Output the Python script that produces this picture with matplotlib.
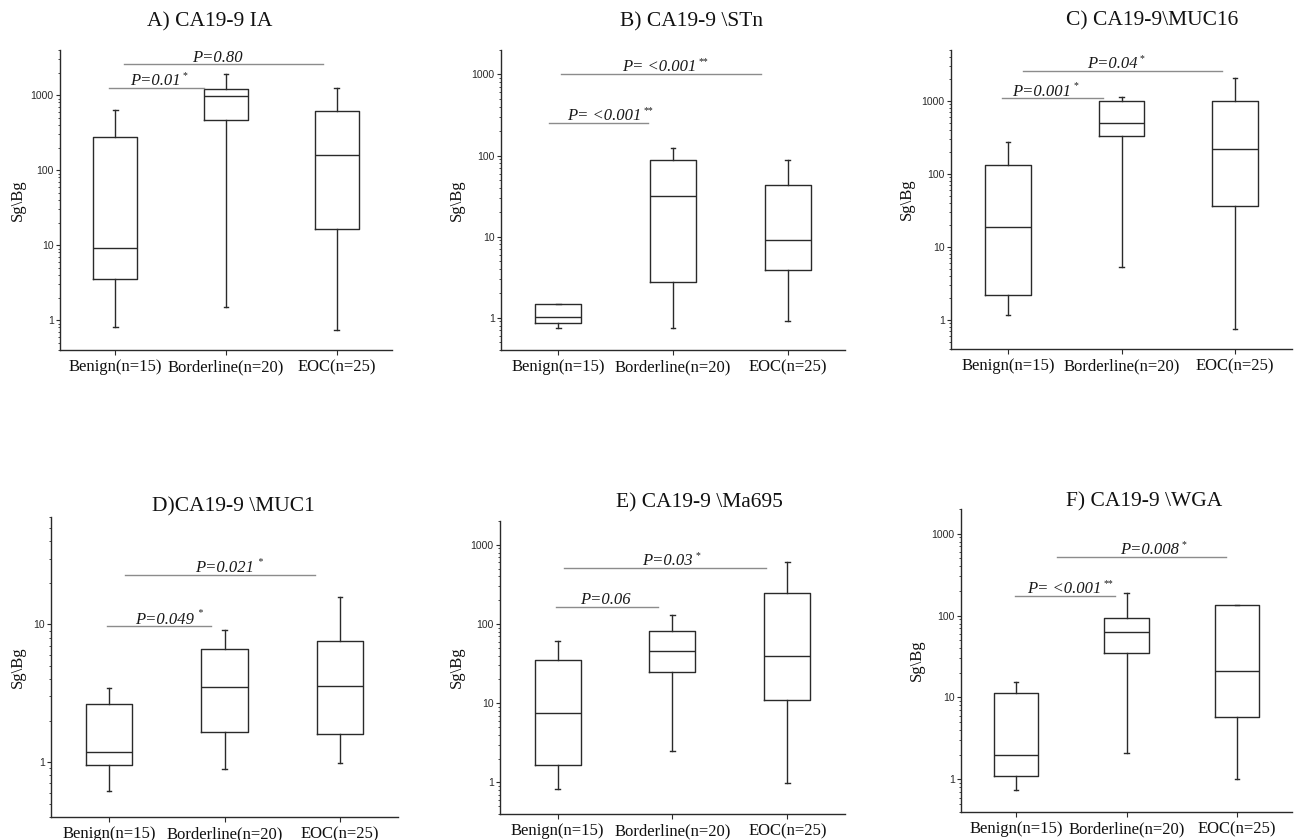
import matplotlib
matplotlib.use('Agg')
import matplotlib.pyplot as plt
from matplotlib.ticker import LogLocator, NullFormatter, FuncFormatter

groups = ['Benign(n=15)', 'Borderline(n=20)', 'EOC(n=25)']
titles = ['A) CA19-9 IA', 'B) CA19-9 \\STn', 'C) CA19-9\\MUC16',
          'D)CA19-9 \\MUC1', 'E) CA19-9 \\Ma695', 'F) CA19-9 \\WGA']

# per group: whisker low, Q1, median, Q3, whisker high
ia = [[0.8, 3.5, 9.2, 281, 631], [1.48, 460, 980, 1214, 1900], [0.74, 16.2, 158, 606, 1230]]
stn = [[0.75, 0.86, 1.03, 1.49, 1.49], [0.75, 2.77, 32, 87, 123], [0.91, 3.9, 9.2, 43, 87]]
muc16 = [[1.16, 2.2, 19, 133, 276], [5.26, 334, 494, 1000, 1135], [0.76, 36.6, 219, 1000, 2070]]
muc1 = [[0.62, 0.955, 1.19, 2.66, 3.46], [0.89, 1.66, 3.5, 6.58, 9.1], [0.98, 1.59, 3.55, 7.56, 15.7]]
ma695 = [[0.83, 1.66, 7.5, 35.5, 62], [2.49, 24.6, 45.6, 82, 130], [0.98, 11, 39.5, 248, 600]]
wga = [[0.75, 1.11, 1.96, 11.3, 15.4], [2.1, 35, 62.8, 94.5, 187], [1.0, 5.7, 21.3, 135, 136]]

# significance bars: x start, x end, y, text x, label, stars
ia_sig = [(0.94, 1.80, 1240, 1.36, 'P=0.01', '*'), (1.08, 2.88, 2565, 1.92, 'P=0.80', '')]
stn_sig = [(0.92, 1.78, 253, 1.40, 'P= <0.001', '**'), (1.02, 2.77, 1010, 1.88, 'P= <0.001', '**')]
muc16_sig = [(0.95, 1.84, 1090, 1.30, 'P=0.001', '*'), (1.13, 2.88, 2590, 1.92, 'P=0.04', '*')]
muc1_sig = [(0.98, 1.88, 9.67, 1.48, 'P=0.049', ' *'), (1.14, 2.78, 22.9, 2.00, 'P=0.021', ' *')]
ma695_sig = [(0.99, 1.87, 165, 1.42, 'P=0.06', ''), (1.06, 2.81, 508, 1.96, 'P=0.03', '*')]
wga_sig = [(0.99, 1.90, 174, 1.44, 'P= <0.001', '**'), (1.37, 2.90, 525, 2.21, 'P=0.008', '*')]

ylims = [(0.4, 4000), (0.4, 2000), (0.4, 5000), (0.4, 60), (0.4, 2000), (0.4, 2000)]

panels = [ia, stn, muc16, muc1, ma695, wga]
sigs = [ia_sig, stn_sig, muc16_sig, muc1_sig, ma695_sig, wga_sig]

# layout in pixels: axes (x0, x1, y0, y1), title centre, y label distance
W, H = 1296, 840
rects = [(60, 392, 50, 350), (501, 845, 50, 350), (951, 1292, 50, 349),
         (51, 398, 517, 817), (500, 845, 521, 814), (961, 1292, 509, 812)]
title_pos = [(210, 22), (692, 22), (1152, 21), (233, 507), (699, 503), (1144, 502)]
ylab_off = [42, 44, 44, 33, 43, 44]

serif = 'Liberation Serif'
sans = 'Liberation Sans'
ink = '#2a2a2a'

fig = plt.figure(figsize=(W / 100, H / 100), dpi=100)

for i in range(6):
    x0, x1, y0, y1 = rects[i]
    ax = fig.add_axes([x0 / W, 1 - y1 / H, (x1 - x0) / W, (y1 - y0) / H])

    stats = []
    for g, row in zip(groups, panels[i]):
        stats.append(dict(label=g, whislo=row[0], q1=row[1], med=row[2], q3=row[3], whishi=row[4]))
    ax.bxp(stats, positions=[1, 2, 3], widths=0.4, capwidths=0.04, showfliers=False,
           boxprops=dict(color=ink, lw=1), whiskerprops=dict(color=ink, lw=1),
           capprops=dict(color=ink, lw=1), medianprops=dict(color=ink, lw=1))

    ax.set_yscale('log')
    ax.set_ylim(*ylims[i])
    ax.set_xlim(0.5, 3.5)
    ax.yaxis.set_major_locator(LogLocator(base=10))
    ax.yaxis.set_minor_locator(LogLocator(base=10, subs=range(2, 10)))
    ax.yaxis.set_major_formatter(FuncFormatter(lambda v, p: f'{v:g}'))
    ax.yaxis.set_minor_formatter(NullFormatter())

    ax.set_xticks([1, 2, 3])
    ax.set_xticklabels(groups, fontfamily=serif, fontsize=12, color='#111')
    for lab in ax.get_yticklabels():
        lab.set_fontfamily(sans)
        lab.set_fontsize(7.5)
        lab.set_color('#333')
    ax.tick_params(axis='y', which='major', direction='out', length=3, width=0.8, pad=1.5, colors=ink)
    ax.tick_params(axis='y', which='minor', direction='out', length=1.6, width=0.6, colors=ink)
    ax.tick_params(axis='x', direction='out', length=3.6, width=0.8, pad=3, colors=ink)
    for lab in ax.get_xticklabels():
        lab.set_color('#111')

    for s in ['top', 'right']:
        ax.spines[s].set_visible(False)
    for s in ['left', 'bottom']:
        ax.spines[s].set_color(ink)
        ax.spines[s].set_linewidth(1)

    ax.set_ylabel('Sg\\Bg', fontfamily=serif, fontsize=12, color='#111')
    ax.yaxis.label.set_va('center')
    ax.yaxis.set_label_coords(-ylab_off[i] / (x1 - x0), 0.5)

    for xa, xb, y, tx, label, stars in sigs[i]:
        ax.plot([xa, xb], [y, y], color='#8c8c8c', lw=1)
        t = ax.annotate(label, xy=(tx, y), xytext=(0, 2), textcoords='offset points',
                        ha='center', va='baseline', fontfamily=serif, fontstyle='italic',
                        fontsize=12, color='#1a1a1a')
        if stars:
            ax.annotate(stars, xy=(1, 1), xycoords=t, xytext=(1.5, 1.5), textcoords='offset points',
                        ha='left', va='top', fontfamily=serif, fontsize=7, color='#1a1a1a')

    tx, ty = title_pos[i]
    fig.text(tx / W, 1 - ty / H, titles[i], ha='center', va='center',
             fontfamily=serif, fontsize=15.5, color='#111')

fig.savefig('out.png', dpi=100, facecolor='white')
